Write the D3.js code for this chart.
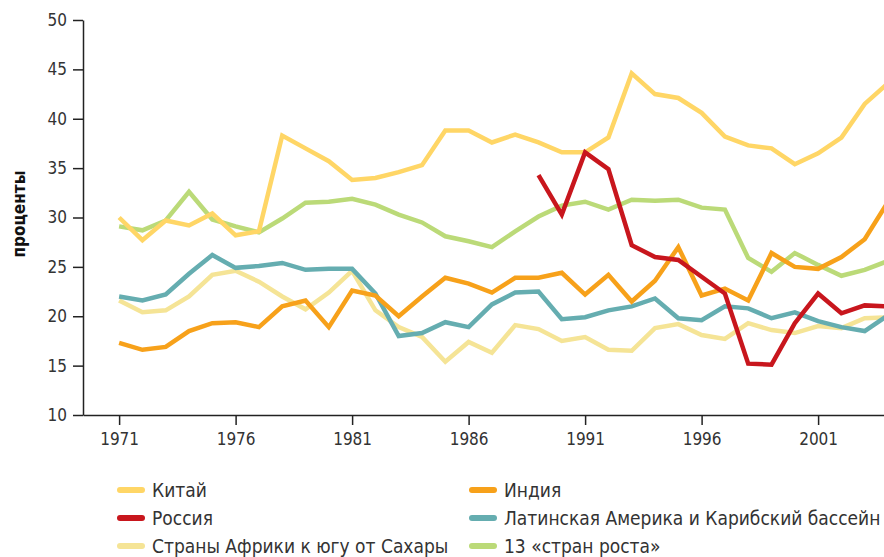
<!DOCTYPE html>
<html>
<head>
<meta charset="utf-8">
<script src="https://cdn.jsdelivr.net/npm/d3@7"></script>
<style>
  body { margin: 0; background: #fff; }
  svg { display: block; }
  .tick text { font-family: "DejaVu Sans Condensed", "Liberation Sans Narrow", sans-serif; font-size: 17px; fill: #333; }
  .legend text { font-family: "DejaVu Sans Condensed", "Liberation Sans Narrow", sans-serif; font-size: 19px; fill: #333; }
</style>
</head>
<body>
<div id="chart"></div>
<script>
const years = d3.range(1971, 2005)

const china = [30.0, 27.7, 29.7, 29.2, 30.4, 28.2, 28.6, 38.3, 37.0, 35.7, 33.8, 34.0, 34.6, 35.3, 38.8, 38.8, 37.6, 38.4, 37.6, 36.6,
  36.6, 38.1, 44.6, 42.5, 42.1, 40.6, 38.2, 37.3, 37.0, 35.4, 36.5, 38.1, 41.5, 43.6]
const india = [17.3, 16.6, 16.9, 18.5, 19.3, 19.4, 18.9, 21.0, 21.6, 18.9, 22.6, 22.1, 20.0, 22.0, 23.9, 23.3, 22.4, 23.9, 23.9, 24.4,
  22.2, 24.2, 21.5, 23.6, 27.0, 22.1, 22.8, 21.6, 26.4, 25.0, 24.8, 26.0, 27.8, 31.6]
const russia = [null, null, null, null, null, null, null, null, null, null, null, null, null, null, null, null, null, null, 34.3, 30.3,
  36.6, 34.9, 27.2, 26.0, 25.7, 24.0, 22.3, 15.2, 15.1, 19.3, 22.3, 20.3, 21.1, 21.0]
const latam = [22.0, 21.6, 22.2, 24.3, 26.2, 24.9, 25.1, 25.4, 24.7, 24.8, 24.8, 22.3, 18.0, 18.3, 19.4, 18.9, 21.2, 22.4, 22.5, 19.7,
  19.9, 20.6, 21.0, 21.8, 19.8, 19.6, 21.0, 20.8, 19.8, 20.4, 19.5, 18.9, 18.5, 20.1]
const africa = [21.6, 20.4, 20.6, 22.0, 24.2, 24.6, 23.5, 22.0, 20.7, 22.4, 24.6, 20.6, 18.9, 17.9, 15.4, 17.4, 16.3, 19.1, 18.7, 17.5,
  17.9, 16.6, 16.5, 18.8, 19.2, 18.1, 17.7, 19.3, 18.6, 18.3, 19.0, 18.8, 19.8, 19.9]
const growth13 = [29.1, 28.7, 29.7, 32.6, 29.8, 29.1, 28.5, 29.9, 31.5, 31.6, 31.9, 31.3, 30.3, 29.5, 28.1, 27.6, 27.0, 28.6, 30.1, 31.2,
  31.6, 30.8, 31.8, 31.7, 31.8, 31.0, 30.8, 25.9, 24.5, 26.4, 25.2, 24.1, 24.7, 25.6]

const seriesNames = ["Китай", "Индия", "Россия", "Латинская Америка и Карибский бассейн", "Страны Африки к югу от Сахары", "13 «стран роста»"]
const seriesColors = ["#FFD666", "#F7A11A", "#C8161D", "#65ADB0", "#F5E496", "#BBDA78"]
const seriesValues = [china, india, russia, latam, africa, growth13]
// draw order: back to front
const drawOrder = [5, 0, 4, 3, 1, 2]

const yTicks = [10, 15, 20, 25, 30, 35, 40, 45, 50]
const xTicks = [1971, 1976, 1981, 1986, 1991, 1996, 2001]

const svgWidth = 884
const svgHeight = 557

const svg = d3.select("#chart").append("svg")
  .attr("width", svgWidth)
  .attr("height", svgHeight)

const x = d3.scaleLinear()
  .domain([1969.45, 2004])
  .range([83, 888])

const y = d3.scaleLinear()
  .domain([10, 50])
  .range([415, 20])

svg.append("defs").append("clipPath").attr("id", "plot")
  .append("rect")
  .attr("x", 83).attr("y", 0)
  .attr("width", svgWidth - 83).attr("height", 416)

const line = d3.line()
  .defined(d => d.v != null)
  .x(d => x(d.year))
  .y(d => y(d.v))

const linesG = svg.append("g").attr("clip-path", "url(#plot)")

drawOrder.forEach(i => {
  const pts = years.map((yr, j) => ({ year: yr, v: seriesValues[i][j] }))
  linesG.append("path")
    .datum(pts)
    .attr("fill", "none")
    .attr("stroke", seriesColors[i])
    .attr("stroke-width", 4.5)
    .attr("d", line)
})

const yAxis = d3.axisLeft(y).tickValues(yTicks).tickSize(10).tickSizeOuter(0).tickPadding(6)
const xAxis = d3.axisBottom(x).tickValues(xTicks).tickFormat(d3.format("d")).tickSize(10).tickSizeOuter(0).tickPadding(8)

svg.append("g")
  .attr("transform", `translate(0, ${y(10)})`)
  .call(xAxis)

svg.append("g")
  .attr("transform", `translate(${x.range()[0]}, 0)`)
  .call(yAxis)

svg.selectAll(".domain, .tick line").attr("stroke", "#222").attr("stroke-width", 1.5)

svg.append("text")
  .attr("transform", `translate(25, 214) rotate(-90)`)
  .attr("text-anchor", "middle")
  .style("font-family", "'DejaVu Sans Condensed', sans-serif")
  .style("font-weight", "bold")
  .style("font-size", "17px")
  .attr("fill", "#111")
  .text("проценты")

// legend, 2 columns x 3 rows
const legend = svg.append("g").attr("class", "legend")
seriesNames.forEach((name, k) => {
  const col = k % 2
  const row = Math.floor(k / 2)
  const gx = col === 0 ? 120 : 472
  const gy = 490 + row * 28
  const item = legend.append("g").attr("transform", `translate(${gx}, ${gy})`)
  item.append("line")
    .attr("x1", 0).attr("x2", 22)
    .attr("stroke", seriesColors[k])
    .attr("stroke-width", 6)
    .attr("stroke-linecap", "round")
  item.append("text")
    .attr("x", 32)
    .attr("dy", "0.35em")
    .text(name)
})
</script>
</body>
</html>
